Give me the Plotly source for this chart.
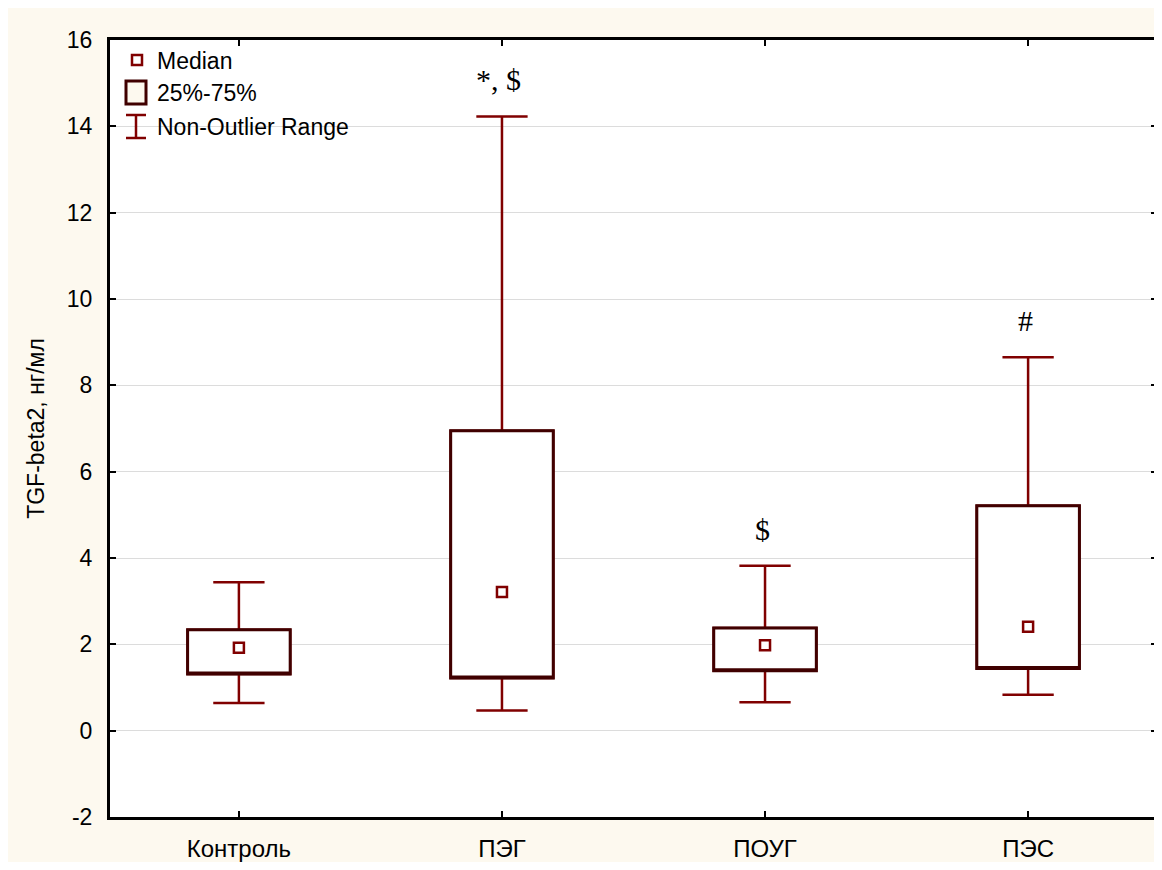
import plotly.graph_objects as go

# ---- data ----
categories = ["Контроль", "ПЭГ", "ПОУГ", "ПЭС"]
medians = [1.92, 3.21, 1.98, 2.41]
q1 = [1.31, 1.22, 1.39, 1.44]
q3 = [2.34, 6.95, 2.38, 5.21]
lower_whisker = [0.64, 0.47, 0.66, 0.83]
upper_whisker = [3.44, 14.23, 3.82, 8.65]
sig_marks = ["", "*, $", "$", "#"]

y_ticks = list(range(-2, 17, 2))
y_tick_text = [str(v) for v in y_ticks]

# ---- styles ----
BOX_COLOR = "#400000"
WHISK_COLOR = "#800000"
BG = "#fdf9ef"
FONT = "Liberation Sans, Arial, sans-serif"
SERIF = "Liberation Serif, Times New Roman, serif"
FS = 23

fig = go.Figure()

# whiskers (box hidden under the second trace)
fig.add_trace(go.Box(
    x=categories, q1=q1, median=q1, q3=q3,
    lowerfence=lower_whisker, upperfence=upper_whisker,
    width=0.39, whiskerwidth=0.5,
    line=dict(color=WHISK_COLOR, width=2.5),
    fillcolor="white", boxpoints=False, showlegend=False, hoverinfo="skip",
))
# 25%-75% box
fig.add_trace(go.Box(
    x=categories, q1=q1, median=q1, q3=q3,
    lowerfence=q1, upperfence=q3,
    width=0.39, whiskerwidth=0,
    line=dict(color=BOX_COLOR, width=3),
    fillcolor="white", boxpoints=False, showlegend=False, hoverinfo="skip",
))
# medians
fig.add_trace(go.Scatter(
    x=categories, y=medians, mode="markers",
    marker=dict(symbol="square-open", size=10, color=WHISK_COLOR,
                line=dict(color=WHISK_COLOR, width=2.5)),
    showlegend=False, hoverinfo="skip",
))

# significance marks
for c, up, m in zip(categories, upper_whisker, sig_marks):
    if m:
        fig.add_annotation(x=c, y=up + 0.85, xref="x", yref="y", text=m,
                           showarrow=False, yanchor="middle", xshift=-3,
                           font=dict(family=SERIF, size=30, color="black"))

# ---- custom legend (pixel -> paper) ----
PL, PR, PT, PB = 110, 1157, 40, 817
def px(x):
    return (x - PL) / (PR - PL)
def py(y):
    return (PB - y) / (PB - PT)

shapes = [
    dict(type="rect", xref="paper", yref="paper", x0=px(132), x1=px(142),
         y0=py(65), y1=py(55), line=dict(color=WHISK_COLOR, width=2.5), fillcolor="white"),
    dict(type="rect", xref="paper", yref="paper", x0=px(126), x1=px(146),
         y0=py(104), y1=py(81), line=dict(color=BOX_COLOR, width=3), fillcolor=BG),
    dict(type="line", xref="paper", yref="paper", x0=px(136), x1=px(136),
         y0=py(115), y1=py(138), line=dict(color=WHISK_COLOR, width=2.5)),
    dict(type="line", xref="paper", yref="paper", x0=px(126), x1=px(146),
         y0=py(115), y1=py(115), line=dict(color=WHISK_COLOR, width=2.5)),
    dict(type="line", xref="paper", yref="paper", x0=px(126), x1=px(146),
         y0=py(138), y1=py(138), line=dict(color=WHISK_COLOR, width=2.5)),
]
for s in shapes:
    fig.add_shape(**s)

legend_labels = ["Median", "25%-75%", "Non-Outlier Range"]
legend_y = [61, 93, 127]
for lab, ly in zip(legend_labels, legend_y):
    fig.add_annotation(x=px(155), y=py(ly), xref="paper", yref="paper", text=lab,
                       showarrow=False, xanchor="left", yanchor="middle",
                       font=dict(family=FONT, size=FS, color="black"))

fig.update_layout(
    width=1154, height=854,
    margin=dict(l=102, r=5, t=32, b=45),
    paper_bgcolor=BG, plot_bgcolor="white",
    font=dict(family=FONT, size=FS, color="black"),
    showlegend=False,
    xaxis=dict(
        range=[-0.49, 3.49], showline=True, linewidth=3, linecolor="black", mirror="ticks",
        ticks="inside", ticklen=6, tickwidth=2, tickcolor="black", showgrid=False,
        ticklabelstandoff=8, tickfont=dict(family=FONT, size=24, color="black"),
        zeroline=False, automargin=False,
    ),
    yaxis=dict(
        range=[-2, 16], tickvals=y_ticks, ticktext=y_tick_text, showline=True,
        linewidth=3, linecolor="black",
        mirror="ticks", ticks="inside", ticklen=6, tickwidth=2, tickcolor="black",
        showgrid=True, gridcolor="#dcdcdc", gridwidth=1, zeroline=False,
        ticklabelstandoff=10, tickfont=dict(family=FONT, size=FS, color="black"),
        automargin=False,
        title=dict(text="TGF-beta2, нг/мл", font=dict(family=FONT, size=FS, color="black"),
                   standoff=16),
    ),
)

fig.write_html("out.html")
